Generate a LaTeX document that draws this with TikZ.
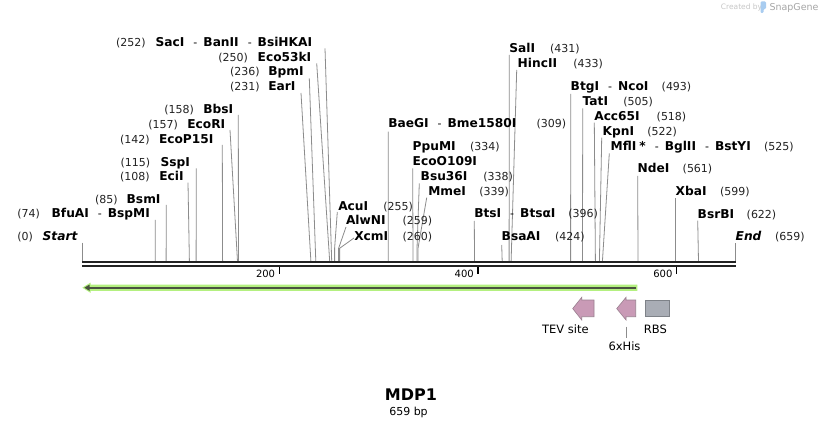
\documentclass[tikz,border=0pt]{standalone}
\usepackage{fontspec}
\setmainfont{DejaVu Sans}
\definecolor{leadgray}{HTML}{8C8C8C}
\definecolor{bbcol}{HTML}{222222}
\definecolor{numcol}{HTML}{222222}
\definecolor{lgreen}{HTML}{B4F080}
\definecolor{dgreen}{HTML}{4A5240}
\definecolor{pinkfeat}{HTML}{C99AB6}
\definecolor{pinkedge}{HTML}{9A8090}
\definecolor{rbsfill}{HTML}{A9ADB5}
\definecolor{rbsedge}{HTML}{7E8288}
\definecolor{logoblue}{HTML}{A8CCF0}
\newcommand\enzsep{\hspace{9pt}{\mdseries\fontsize{11}{13}\selectfont -}\hspace{6pt}}
\tikzset{
  num/.style={anchor=base west, inner sep=0pt, outer sep=0pt, text=numcol, font=\fontsize{11}{13}\selectfont},
  enz/.style={anchor=base west, inner sep=0pt, outer sep=0pt, font=\fontsize{12.2}{14}\selectfont\bfseries},
  featlbl/.style={anchor=base, inner sep=0pt, font=\fontsize{11.5}{13}\selectfont},
  lead/.style={draw=leadgray, line width=0.8pt},
  bb/.style={draw=bbcol, line width=2.3pt},
  tick/.style={draw=black, line width=1.6pt},
  ticklbl/.style={anchor=base east, inner sep=0pt, font=\fontsize{10}{12}\selectfont},
}
\begin{document}
\begin{tikzpicture}[x=1pt,y=-1pt]
\useasboundingbox (0,0) rectangle (818,427);
\fill[white] (0,0) rectangle (818,427);

% straight leader lines: id / top x / top y / site x
\foreach \i/\tx/\ty/\sx in {
  a/325/48.3/331.7, b/316.7/63.3/329.7, c/309.3/78.3/315.8, d/301/93/310.9,
  e/238.3/115/238.5, f/230/130/237.5, g/222.3/145/222.6, h/196.3/168.3/196.1,
  k/188/182.7/189.4, l/166.3/205/166.1, m/155.3/220/155.2, n/82.3/242.7/82.3,
  r/388.3/131.7/388.2,
  s/412.7/168.3/413.0, v/474.3/221/474.5,
  w/501.7/245/502.2, x/509.3/55/509.1, y/516.7/70/511.1, z/570.7/94/570.6,
  aa/582.7/108.3/582.5, ab/594.3/122.7/595.4, ac/601.7/137.7/599.4, ad/609.3/153.3/602.4,
  ae/637.7/176/638.0, af/675.7/198.3/675.7, ag/697.7/220.7/698.5, ah/735.7/243.3/735.7}
{
  \coordinate (lt\i) at (\tx,\ty);
  \coordinate (ls\i) at (\sx,261.5);
  \draw[lead] (lt\i) -- (ls\i);
}
% bent leader lines: id / top x / top y / site x
\foreach \i/\tx/\ty/\sx in {
  o/337.3/212/334.6, p/346/227/338.6, q/354/238/339.6,
  t/419.3/183.3/417.0, u/426.7/197.7/418.0}
{
  \coordinate (lt\i) at (\tx,\ty);
  \coordinate (lb\i) at (\sx,248.3);
  \coordinate (ls\i) at (\sx,261.5);
  \draw[lead] (lt\i) -- (lb\i) -- (ls\i);
}

% backbone
\coordinate (bbL1) at (82.3,262.2);
\coordinate (bbR1) at (735.7,262.2);
\coordinate (bbL2) at (82.3,266.2);
\coordinate (bbR2) at (735.7,266.2);
\draw[bb] (bbL1) -- (bbR1);
\draw[bb] (bbL2) -- (bbR2);

% ticks
\foreach \v/\tx in {200/279.3, 400/478, 600/676.6}{
  \coordinate (tkA\v) at (\tx,267.3);
  \coordinate (tkB\v) at (\tx,274);
  \draw[tick] (tkA\v) -- (tkB\v);
  \node[ticklbl] (tl\v) at (\tx-4,277.7) {\v};
}

% left labels
\node[num] (n252) at (116,46.7) {(252)};
\node[enz] (e252) at (155.7,46.7) {SacI\enzsep BanII\enzsep BsiHKAI};
\node[num] (n250) at (218.3,61.7) {(250)};
\node[enz] (e250) at (257.7,61.7) {Eco53kI};
\node[num] (n236) at (230,75.7) {(236)};
\node[enz] (e236) at (268.3,75.7) {BpmI};
\node[num] (n231) at (230,90.7) {(231)};
\node[enz] (e231) at (268.3,90.7) {EarI};
\node[num] (n158) at (164.3,113.3) {(158)};
\node[enz] (e158) at (203.3,113.3) {BbsI};
\node[num] (n157) at (148.3,128.3) {(157)};
\node[enz] (e157) at (187.3,128.3) {EcoRI};
\node[num] (n142) at (120,143.3) {(142)};
\node[enz] (e142) at (159,143.3) {EcoP15I};
\node[num] (n115) at (120.7,166.7) {(115)};
\node[enz] (e115) at (160.7,166.7) {SspI};
\node[num] (n108) at (120,180.7) {(108)};
\node[enz] (e108) at (159.3,180.7) {EciI};
\node[num] (n85) at (95,203.3) {(85)};
\node[enz] (e85) at (126.7,203.3) {BsmI};
\node[num] (n74) at (17.3,217.7) {(74)};
\node[enz] (e74) at (51.7,217.7) {BfuAI\enzsep BspMI};
\node[num] (n0) at (17.3,241) {(0)};
\node[enz] (e0) at (42.7,241) {\itshape Start};

% right labels
\node[enz] (e255) at (338.3,210.7) {AcuI};
\node[num] (n255) at (383.3,210.7) {(255)};
\node[enz] (e259) at (346,225) {AlwNI};
\node[num] (n259) at (402.7,225) {(259)};
\node[enz] (e260) at (354.3,240.7) {XcmI};
\node[num] (n260) at (402.7,240.7) {(260)};
\node[enz] (e309) at (388.3,127.7) {BaeGI\enzsep Bme1580I};
\node[num] (n309) at (536.7,127.7) {(309)};
\node[enz] (e334) at (412.7,150.7) {PpuMI};
\node[num] (n334) at (470,150.7) {(334)};
\node[enz] (e334b) at (412.7,166) {EcoO109I};
\node[enz] (e338) at (420.7,180.7) {Bsu36I};
\node[num] (n338) at (483.3,180.7) {(338)};
\node[enz] (e339) at (428.3,195.7) {MmeI};
\node[num] (n339) at (479.3,195.7) {(339)};
\node[enz] (e396) at (474.3,217.3) {BtsI\enzsep BtsαI};
\node[num] (n396) at (568.3,217.3) {(396)};
\node[enz] (e424) at (501.7,241) {BsaAI};
\node[num] (n424) at (555,241) {(424)};
\node[enz] (e431) at (509.3,52.3) {SalI};
\node[num] (n431) at (550,52.3) {(431)};
\node[enz] (e433) at (517.7,67.3) {HincII};
\node[num] (n433) at (573.3,67.3) {(433)};
\node[enz] (e493) at (570.7,91) {BtgI\enzsep NcoI};
\node[num] (n493) at (661.7,91) {(493)};
\node[enz] (e505) at (582.7,106) {TatI};
\node[num] (n505) at (623.3,106) {(505)};
\node[enz] (e518) at (594.3,121) {Acc65I};
\node[num] (n518) at (656.7,121) {(518)};
\node[enz] (e522) at (602.7,136) {KpnI};
\node[num] (n522) at (647.3,136) {(522)};
\node[enz] (e525) at (610.7,151) {MflI\hspace{3pt}*\enzsep BglII\enzsep BstYI};
\node[num] (n525) at (764,151) {(525)};
\node[enz] (e561) at (637.7,172.7) {NdeI};
\node[num] (n561) at (682.7,172.7) {(561)};
\node[enz] (e599) at (675.7,196) {XbaI};
\node[num] (n599) at (720,196) {(599)};
\node[enz] (e622) at (697.7,218.7) {BsrBI};
\node[num] (n622) at (746.7,218.7) {(622)};
\node[enz] (e659) at (735.7,240.7) {\itshape End};
\node[num] (n659) at (775,240.7) {(659)};

% green ORF arrow
\fill[lgreen] (637.3,284.6) -- (90.5,284.6) -- (90.5,282.6) -- (82.3,287.7) -- (90.5,292.8) -- (90.5,290.8) -- (637.3,290.8) -- cycle;
\coordinate (orfR) at (636,287.7);
\coordinate (orfL) at (88,287.7);
\draw[dgreen, line width=2.3pt] (orfR) -- (orfL);
\fill[dgreen] (84.3,287.7) -- (89.5,284.6) -- (89.5,290.8) -- cycle;

% features
\draw[fill=pinkfeat, draw=pinkedge, line width=0.6pt] (594,300) -- (581.7,300) -- (581.7,297.3) -- (572.7,308.6) -- (581.7,320) -- (581.7,316.7) -- (594,316.7) -- cycle;
\draw[fill=pinkfeat, draw=pinkedge, line width=0.6pt] (635.7,300) -- (626,300) -- (626,297.3) -- (616.7,308.6) -- (626,320) -- (626,316.7) -- (635.7,316.7) -- cycle;
\draw[fill=rbsfill, draw=rbsedge, line width=0.6pt] (645,300) rectangle (669,316.7);
\node[featlbl] (tev) at (565.3,333.3) {TEV site};
\node[featlbl] (rbs) at (655.3,333.3) {RBS};
\node[featlbl] (his) at (624.5,350) {6xHis};
\coordinate (hisT) at (626,326.7);
\coordinate (hisB) at (626,337.7);
\draw[lead] (hisT) -- (hisB);

% title
\node[anchor=base, inner sep=0pt, font=\fontsize{16}{18}\selectfont\bfseries] (title) at (411,400.7) {MDP1};
\node[anchor=base, inner sep=0pt, font=\fontsize{11}{13}\selectfont] (len) at (408.5,415) {659 bp};

% SnapGene mark
\node[anchor=base west, inner sep=0pt, text=black!22, font=\fontsize{7.5}{9}\selectfont] (cby) at (720.7,10) {Created by};
\fill[logoblue, rounded corners=1.2pt] (760.5,1.5) -- (766,1.5) -- (766,9) -- (763.5,9) -- (763.5,13) -- (760.5,13) -- cycle;
\node[anchor=base west, inner sep=0pt, text=black!35, font=\fontsize{9.5}{11}\selectfont] (sg) at (769.3,11) {SnapGene};
\end{tikzpicture}
\end{document}
